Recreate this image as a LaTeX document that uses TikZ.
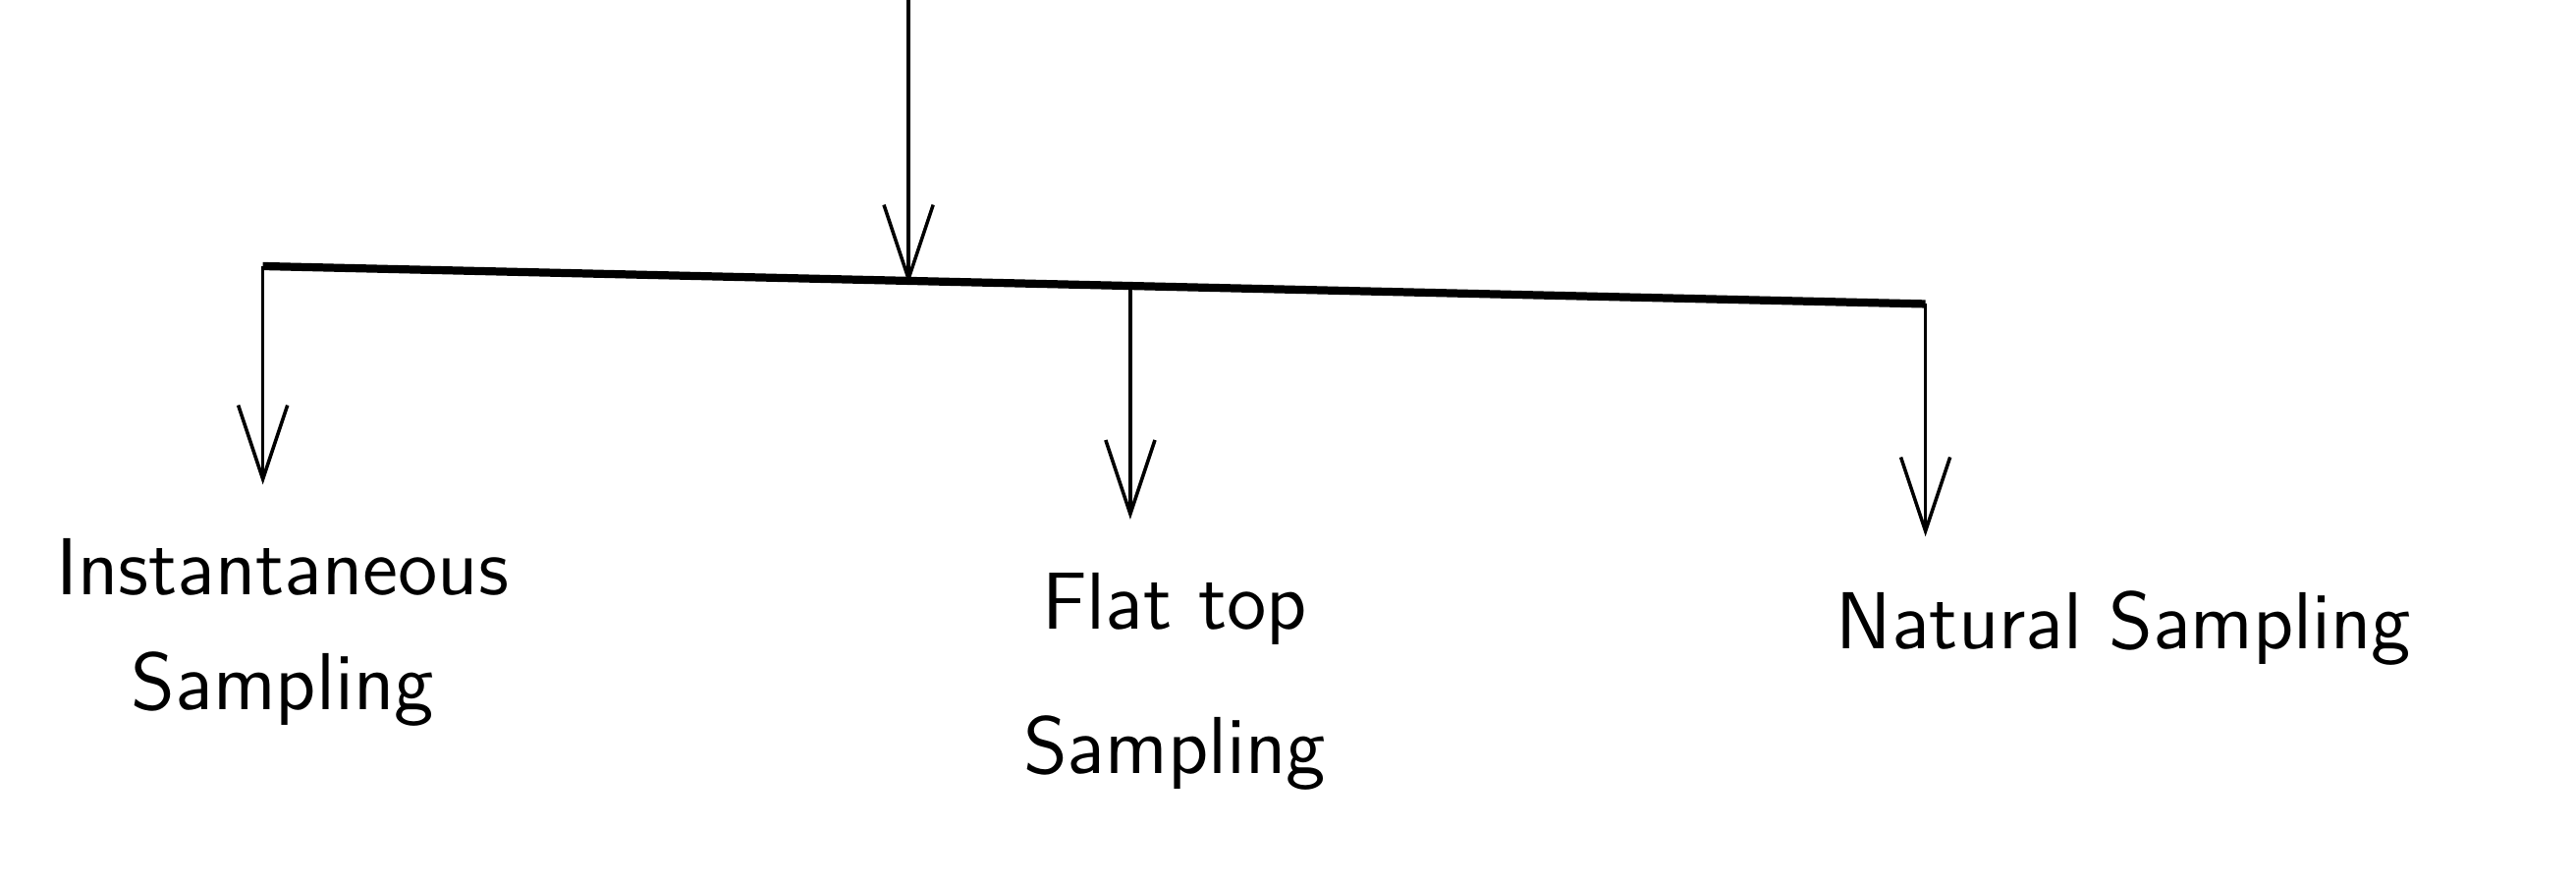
\documentclass[tikz,border=0pt]{standalone}
\usetikzlibrary{arrows.meta}
\tikzset{
  label/.style={align=center, outer sep=6pt},
}
\begin{document}
\begin{tikzpicture}[>={Straight Barb[length=4.5mm,width=3mm]}, line width=0.6pt,
  font=\sffamily\fontsize{14}{20}\selectfont]
\useasboundingbox (0,0) rectangle (15.68,-5.38);
\coordinate (top) at (5.53,0.1);
\coordinate (bj) at (5.53,-1.73);
\coordinate (bl) at (1.60,-1.62);
\coordinate (bm) at (6.88,-1.74);
\coordinate (br) at (11.72,-1.85);

\node[label] (inst) at (1.72,-3.85) {Instantaneous\\Sampling};
\node[label] (flat) at (7.15,-4.15) {Flat top\\[5pt]Sampling};
\node[label, anchor=west] (nat) at (10.85,-3.82) {Natural Sampling};

\draw[->] (top) -- (bj);
\draw[line width=1.4pt] (bl) -- (br);
\draw[->] (bl) -- (bl |- inst.north);
\draw[->] (bm) -- (bm |- flat.north);
\draw[->] (br) -- (br |- nat.north);
\end{tikzpicture}
\end{document}
